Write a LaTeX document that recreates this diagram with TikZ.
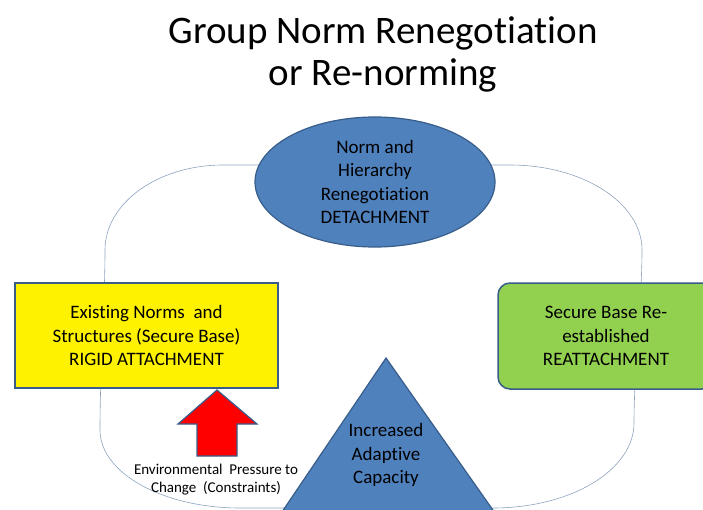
\documentclass[tikz,border=0pt]{standalone}
\usepackage{fontspec}
\setmainfont{Carlito}[Ligatures=NoCommon]
\usepackage{tikz}
\usetikzlibrary{shapes, arrows, positioning}
\definecolor{officeblue}{HTML}{4F81BD}
\definecolor{officeedge}{HTML}{385D8A}
\definecolor{leafgreen}{HTML}{92D050}
\definecolor{loopgray}{HTML}{8DA3BF}
\tikzstyle{bodytext}=[font=\fontsize{19}{23.5}\selectfont,align=center]
\tikzstyle{ovalnode}=[bodytext,shape=ellipse,draw=officeedge,fill=officeblue,line width=1.2pt,minimum width=240pt,minimum height=130pt,inner sep=0pt]
\tikzstyle{basebox}=[bodytext,shape=rectangle,draw=officeedge,fill=yellow,line width=1.5pt,minimum width=263pt,minimum height=105pt,inner sep=0pt]
\tikzstyle{reattbox}=[bodytext,shape=rectangle,rounded corners=12pt,draw=officeedge,fill=leafgreen,line width=1.5pt,minimum width=216pt,minimum height=106pt,inner sep=0pt]
\tikzstyle{loopedge}=[draw=loopgray,line width=0.6pt]
\tikzstyle{pressurearrow}=[draw=officeedge,fill=red,line width=1.2pt,line join=miter]

\begin{document}
\begin{tikzpicture}[x=1pt,y=-1pt]
\clip (0,0) rectangle (703,510);
% background loop behind the stages
\draw[loopedge] (223,165) -- (510,165) .. controls (583,165) and (642,203) .. (642,250)
  .. controls (642,300) and (634,370) .. (634,423) .. controls (634,470) and (571,508) .. (493,508)
  -- (240,508) .. controls (163,508) and (100,473) .. (100,430)
  .. controls (100,370) and (105,300) .. (105,250) .. controls (105,203) and (158,165) .. (223,165) -- cycle;

% title
\node[align=center,font=\fontsize{39}{42}\selectfont] (title) at (383,54) {Group Norm Renegotiation\\or Re-norming};

% stages
\node[ovalnode] (detach) at (375,182) {Norm and\\Hierarchy\\Renegotiation\\DETACHMENT};
\node[basebox] (rigid) at (146.5,335.5) {Existing Norms~ and\\Structures (Secure Base)\\RIGID ATTACHMENT};
\node[reattbox] (reattach) at (606,336) {Secure Base Re-\\established\\REATTACHMENT};

% adaptive capacity
\filldraw[draw=officeedge,fill=officeblue,line width=1.2pt] (386,358) -- (263,540) -- (514,540) -- cycle;
\node[bodytext,text=black] (capacity) at (386,455) {Increased\\Adaptive\\Capacity};

% pressure on the base
\filldraw[pressurearrow] (217,390) -- (257,424) -- (237,424) -- (237,456) -- (197,456) -- (197,424) -- (178,424) -- cycle;
\node[align=center,font=\fontsize{15}{18}\selectfont] (pressure) at (216,480) {Environmental~ Pressure to\\Change~ (Constraints)};

\end{tikzpicture}
\end{document}
